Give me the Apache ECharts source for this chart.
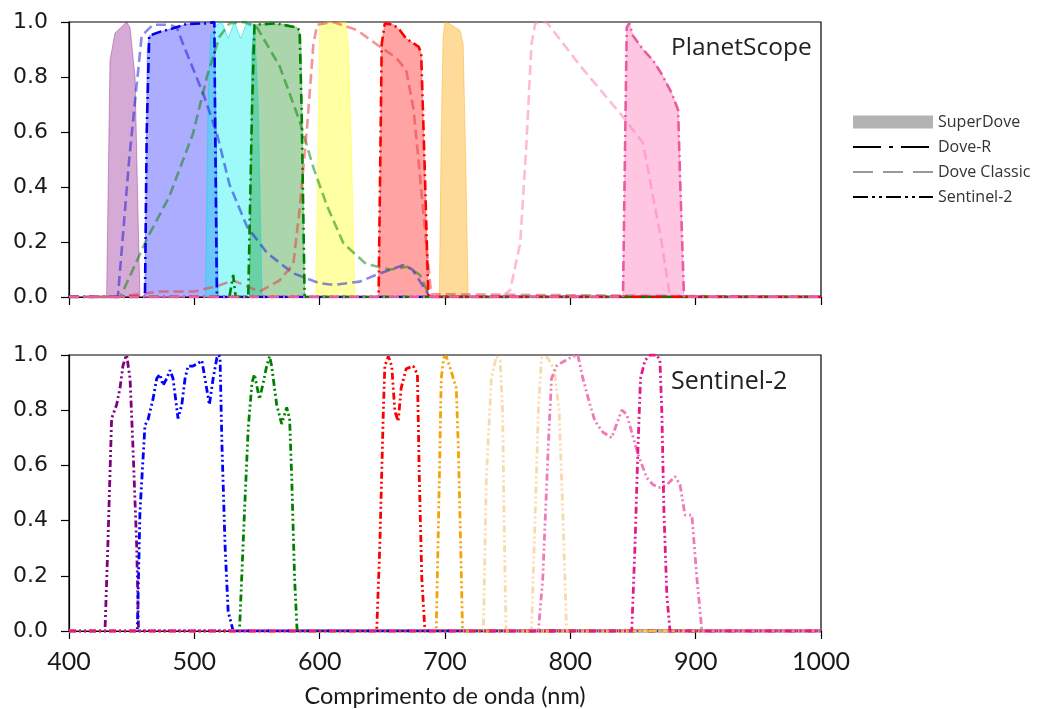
<!DOCTYPE html>
<html>
<head>
<meta charset="utf-8">
<script src="https://cdn.jsdelivr.net/npm/echarts@6/dist/echarts.min.js"></script>
<style>html,body{margin:0;padding:0;background:#fff;}#c{width:1042px;height:709px;}</style>
</head>
<body>
<div id="c"></div>
<script>
// ---------- axis ticks ----------
const xTicks = [400, 500, 600, 700, 800, 900, 1000];
const yTicks = [0.0, 0.2, 0.4, 0.6, 0.8, 1.0];

// ---------- PlanetScope: SuperDove (filled) [wavelength nm, response] ----------
const sdCoastal = [[430,0],[432.7,0.86],[436.7,0.96],[440.7,0.977],[446,1.0],[448.7,0.98],[452.7,0.8],[455,0.32],[456.6,0]];
const sdBlue    = [[460.5,0],[462.5,0.9],[464,0.95],[473,0.965],[483,0.977],[494,0.993],[510,0.995],[516,1.0],[517.5,0.6],[519,0]];
const sdGreenI  = [[509,0],[511,0.7],[513,0.95],[518,0.99],[522,1.0],[527,0.94],[532,1.0],[537,0.94],[542,1.0],[548,0.99],[551,0.7],[554,0]];
const sdGreenII = [[544,0],[546,0.9],[548,0.99],[560,0.995],[575,0.99],[582,0.98],[585,0.95],[586.5,0.5],[588,0]];
const sdYellow  = [[597,0],[600,0.99],[605,1.0],[621,1.0],[623,0.9],[625.5,0.5],[628,0]];
const sdRed     = [[647,0],[649.5,0.92],[652,0.995],[659,0.99],[664,0.97],[669,0.94],[679,0.91],[681,0.886],[684,0.44],[686.7,0]];
const sdRedEdge = [[695.5,0],[697,0.6],[698.5,0.95],[700,1.0],[705,0.99],[712,0.97],[714.5,0.92],[716.5,0.5],[718.5,0]];
const sdNir     = [[842,0],[845,0.98],[847,0.995],[850,0.95],[858,0.9],[866,0.86],[873,0.81],[881,0.74],[886,0.68],[888,0.4],[890.7,0]];

// ---------- PlanetScope: Dove-R (dash-dot) ----------
const drBlue  = [[400,0],[460.6,0],[462,0.6],[464,0.95],[473,0.965],[483,0.977],[494,0.993],[510,0.995],[516,1.0],[516.5,0.68],[518,0],[1000,0]];
const drGreen = [[400,0],[528,0],[531,0.08],[533,0],[543,0],[546,0.68],[548,0.99],[565,0.995],[581.6,0.98],[584,0.97],[585.6,0.68],[588,0],[1000,0]];
const drRed   = [[400,0],[647,0],[649.5,0.92],[652,0.995],[659,0.99],[664,0.97],[669,0.94],[679,0.91],[681,0.886],[684,0.44],[686.7,0],[1000,0]];
const drNir   = [[400,0],[842,0],[845,0.98],[847,0.995],[850,0.95],[858,0.9],[866,0.86],[873,0.81],[881,0.74],[886,0.68],[887.5,0.44],[890.7,0],[1000,0]];

// ---------- PlanetScope: Dove Classic (dashed) ----------
const dcBlue  = [[400,0],[439,0],[448,0.5],[458,0.95],[467,0.99],[480,0.99],[486,0.98],[491,0.92],[507,0.74],[518,0.595],[528,0.41],[542,0.256],[558,0.16],[579,0.086],[600,0.05],[611,0.044],[632,0.056],[648,0.086],[667,0.116],[674,0.1],[688,0],[1000,0]];
const dcGreen = [[400,0],[441,0],[462,0.21],[480,0.365],[499,0.595],[510,0.8],[520,0.946],[528,0.995],[540,1.0],[550,0.98],[568,0.84],[584,0.64],[595,0.47],[606,0.33],[619,0.195],[637,0.12],[656,0.1],[670,0.11],[680,0.08],[688,0],[1000,0]];
const dcRed   = [[400,0],[440,0],[454,0.01],[473,0.02],[500,0.02],[518,0.04],[531,0.06],[552,0.02],[568,0.06],[579,0.12],[584,0.32],[590,0.62],[595,0.92],[598,0.99],[611,1.0],[630,0.97],[645,0.92],[661,0.87],[669,0.825],[675,0.68],[680,0.44],[685,0.195],[689,0.01],[1000,0]];
const dcNir   = [[400,0],[745,0],[752,0.025],[760,0.195],[765,0.56],[769,0.92],[772,0.995],[781,1.0],[808,0.84],[842,0.655],[858,0.56],[866,0.365],[873,0.195],[879.5,0],[1000,0]];

// ---------- Sentinel-2 (dash-dot-dot) ----------
const s2B1  = [[400,0],[428.7,0],[431,0.31],[434,0.77],[438,0.82],[440.7,0.88],[443,0.96],[445,0.99],[446,1.0],[448.7,0.915],[451,0.67],[454,0.31],[455.5,0],[1000,0]];
const s2B2  = [[400,0],[454.5,0],[456.6,0.43],[460.6,0.745],[463,0.765],[467,0.84],[470,0.915],[472.6,0.93],[475,0.89],[478,0.915],[480.6,0.945],[483,0.915],[487,0.77],[490,0.82],[492.6,0.915],[495,0.96],[499,0.96],[503,0.97],[506,0.98],[508.5,0.915],[512,0.82],[515,0.915],[518,0.99],[519.5,1.0],[520.5,0.99],[522,0.68],[524.5,0.31],[527,0.07],[531,0],[1000,0]];
const s2B3  = [[400,0],[536,0],[540,0.43],[543,0.735],[546,0.9],[548,0.93],[552,0.84],[555,0.9],[557.7,0.96],[560,0.995],[561.7,0.96],[565.7,0.82],[569.7,0.75],[573.7,0.81],[576,0.77],[577.7,0.555],[580,0.19],[582,0],[1000,0]];
const s2B4  = [[400,0],[645.5,0],[648,0.31],[650.8,0.795],[652,0.96],[654.8,0.995],[657.5,0.96],[660,0.795],[662.7,0.76],[665,0.88],[669,0.95],[674.7,0.96],[678,0.93],[679.5,0.555],[681.5,0.19],[684,0],[1000,0]];
const s2B5  = [[400,0],[693,0],[695.5,0.555],[697,0.915],[699,0.99],[701,0.995],[705,0.94],[709,0.88],[710.6,0.67],[712.5,0.31],[714,0],[1000,0]];
const s2B6  = [[400,0],[730.6,0],[733,0.555],[737,0.915],[741,0.995],[744,0.98],[746,0.795],[747,0.43],[748.7,0],[1000,0]];
const s2B7  = [[400,0],[769,0],[772,0.43],[774.5,0.8],[777,0.99],[782,0.99],[787,0.95],[791,0.8],[794,0.43],[797,0],[1000,0]];
const s2B8  = [[400,0],[774.5,0],[778,0.19],[782.4,0.67],[785,0.915],[789,0.96],[794,0.975],[800,0.99],[806,1.0],[810,0.915],[815.7,0.82],[819.7,0.76],[826,0.72],[833,0.7],[837,0.75],[841,0.8],[845,0.785],[849,0.72],[854,0.64],[861,0.555],[866,0.53],[871.5,0.52],[877,0.53],[883.5,0.56],[887.5,0.53],[891.5,0.42],[897,0.42],[898,0.36],[901,0.19],[905,0],[1000,0]];
const s2B8A = [[400,0],[849,0],[851.6,0.31],[854,0.67],[856,0.915],[859.5,0.98],[863.5,1.0],[869,1.0],[871.5,0.98],[873,0.795],[874.7,0.43],[877,0.13],[879.5,0],[1000,0]];

const legendNames = ['SuperDove', 'Dove-R', 'Dove Classic', 'Sentinel-2'];

// ---------- styles ----------
const DASH_DOT = [10, 4, 2, 4];
const DASHED = [10, 5];
const DASH_DOT_DOT = [7, 3, 2, 3, 2, 3];
const NOSYM = { color: 'rgba(0,0,0,0)', opacity: 0 };

function fill(name, data, color, edge) {
  return { name, type: 'line', xAxisIndex: 0, yAxisIndex: 0, data, symbol: 'none', silent: true,
    lineStyle: { width: 1, color: edge }, areaStyle: { color, opacity: 1 }, z: 1 };
}
function ln(name, data, color, dash, width, xi, z) {
  return { name, type: 'line', xAxisIndex: xi, yAxisIndex: xi, data, symbol: 'none', silent: true,
    lineStyle: { width, color, type: dash, cap: 'butt' }, z };
}

const series = [
  fill('sd1', sdCoastal, 'rgba(128,0,128,0.33)', 'rgba(128,0,128,0.35)'),
  fill('sd2', sdBlue, 'rgba(0,0,255,0.32)', 'rgba(0,0,255,0.3)'),
  fill('sd3', sdGreenI, 'rgba(0,240,240,0.38)', 'rgba(0,220,220,0.5)'),
  fill('sd4', sdGreenII, 'rgba(0,128,0,0.33)', 'rgba(0,128,0,0.3)'),
  fill('sd5', sdYellow, 'rgba(255,255,0,0.36)', 'rgba(255,255,0,0.4)'),
  fill('sd6', sdRed, 'rgba(255,0,0,0.36)', 'rgba(255,0,0,0.3)'),
  fill('sd7', sdRedEdge, 'rgba(255,165,0,0.4)', 'rgba(255,165,0,0.4)'),
  fill('sd8', sdNir, 'rgba(255,105,180,0.38)', 'rgba(255,105,180,0.4)'),

  ln('dc1', dcBlue, 'rgba(20,20,220,0.5)', DASHED, 2.6, 0, 2),
  ln('dc2', dcGreen, 'rgba(0,128,0,0.5)', DASHED, 2.6, 0, 2),
  ln('dc3', dcRed, 'rgba(235,60,60,0.55)', DASHED, 2.6, 0, 2),
  ln('dc4', dcNir, 'rgba(255,130,190,0.55)', DASHED, 2.6, 0, 2),

  ln('dr1', drBlue, '#0000ee', DASH_DOT, 2.6, 0, 3),
  ln('dr2', drGreen, '#008000', DASH_DOT, 2.6, 0, 3),
  ln('dr3', drRed, '#ff0000', DASH_DOT, 2.6, 0, 3),
  ln('dr4', drNir, '#ec5aa2', DASH_DOT, 2.6, 0, 3),

  ln('b1', s2B1, '#800080', DASH_DOT_DOT, 2.8, 1, 3),
  ln('b2', s2B2, '#0000ff', DASH_DOT_DOT, 2.8, 1, 3),
  ln('b3', s2B3, '#008000', DASH_DOT_DOT, 2.8, 1, 3),
  ln('b4', s2B4, '#ff0000', DASH_DOT_DOT, 2.8, 1, 3),
  ln('b5', s2B5, '#f5a300', DASH_DOT_DOT, 2.8, 1, 3),
  ln('b6', s2B6, 'rgba(250,200,140,0.7)', DASH_DOT_DOT, 2.8, 1, 3),
  ln('b7', s2B7, 'rgba(250,200,140,0.7)', DASH_DOT_DOT, 2.8, 1, 3),
  ln('b8', s2B8, '#f07ab8', DASH_DOT_DOT, 2.8, 1, 3),
  ln('b8a', s2B8A, '#e8188a', DASH_DOT_DOT, 2.8, 1, 4),

  // legend-only entries
  { name: legendNames[0], type: 'line', data: [], symbol: 'none', itemStyle: { color: '#b3b3b3' }, lineStyle: { color: '#b3b3b3', width: 10 } },
  { name: legendNames[1], type: 'line', data: [], symbol: 'none', itemStyle: NOSYM, lineStyle: { color: '#000', width: 2.6, type: [28, 8, 4, 8], cap: 'butt' } },
  { name: legendNames[2], type: 'line', data: [], symbol: 'none', itemStyle: NOSYM, lineStyle: { color: '#999', width: 2.6, type: [20, 10], cap: 'butt' } },
  { name: legendNames[3], type: 'line', data: [], symbol: 'none', itemStyle: NOSYM, lineStyle: { color: '#000', width: 3.4, type: [15, 4, 3, 4, 3, 4], cap: 'butt' } }
];

const yLab = { fontFamily: 'DejaVu Sans', fontSize: 22, color: '#1a1a1a', margin: 21, formatter: v => v.toFixed(1) };
const tick = { show: true, length: 8, lineStyle: { color: '#000', width: 1.2 } };
const axLine = { show: true, lineStyle: { color: '#000', width: 1.2 } };

const option = {
  animation: false,
  backgroundColor: '#fff',
  title: [
    { text: 'PlanetScope', left: 671, top: 36, padding: 0, textStyle: { fontFamily: 'Open Sans', fontSize: 24.5, fontWeight: 'normal', color: '#222' } },
    { text: 'Sentinel-2', left: 671, top: 369, padding: 0, textStyle: { fontFamily: 'Open Sans', fontSize: 25, fontWeight: 'normal', color: '#222' } }
  ],
  legend: {
    orient: 'vertical', left: 852, top: 114, padding: 0,
    itemWidth: 80, itemHeight: 13, itemGap: 9,
    selectedMode: false,
    textStyle: { fontFamily: 'Open Sans', fontSize: 16, color: '#333' },
    data: [
      { name: legendNames[0], icon: 'rect', itemStyle: { color: '#b3b3b3' } },
      { name: legendNames[1], itemStyle: NOSYM },
      { name: legendNames[2], itemStyle: NOSYM },
      { name: legendNames[3], itemStyle: NOSYM }
    ]
  },
  grid: [
    { left: 69, top: 22, width: 752, height: 275, show: true, borderColor: '#000', borderWidth: 1.2, backgroundColor: 'transparent' },
    { left: 69, top: 355, width: 752, height: 276, show: true, borderColor: '#000', borderWidth: 1.2, backgroundColor: 'transparent' }
  ],
  xAxis: [
    { type: 'value', gridIndex: 0, min: xTicks[0], max: xTicks[xTicks.length - 1], interval: 100,
      axisLine: axLine, axisTick: tick, axisLabel: { show: false }, splitLine: { show: false } },
    { type: 'value', gridIndex: 1, min: xTicks[0], max: xTicks[xTicks.length - 1], interval: 100,
      axisLine: axLine, axisTick: tick, splitLine: { show: false },
      axisLabel: { fontFamily: 'Lato', fontSize: 25, color: '#1a1a1a', margin: 18, formatter: v => String(v) },
      name: 'Comprimento de onda (nm)', nameLocation: 'middle', nameGap: 53,
      nameTextStyle: { fontFamily: 'Lato', fontSize: 23.5, color: '#1a1a1a' } }
  ],
  yAxis: [
    { type: 'value', gridIndex: 0, min: yTicks[0], max: yTicks[yTicks.length - 1], interval: 0.2,
      axisLine: axLine, axisTick: tick, axisLabel: yLab, splitLine: { show: false } },
    { type: 'value', gridIndex: 1, min: yTicks[0], max: yTicks[yTicks.length - 1], interval: 0.2,
      axisLine: axLine, axisTick: tick, axisLabel: yLab, splitLine: { show: false } }
  ],
  series
};

const chart = echarts.init(document.getElementById('c'), null, { renderer: 'canvas' });
chart.setOption(option);
</script>
</body>
</html>
